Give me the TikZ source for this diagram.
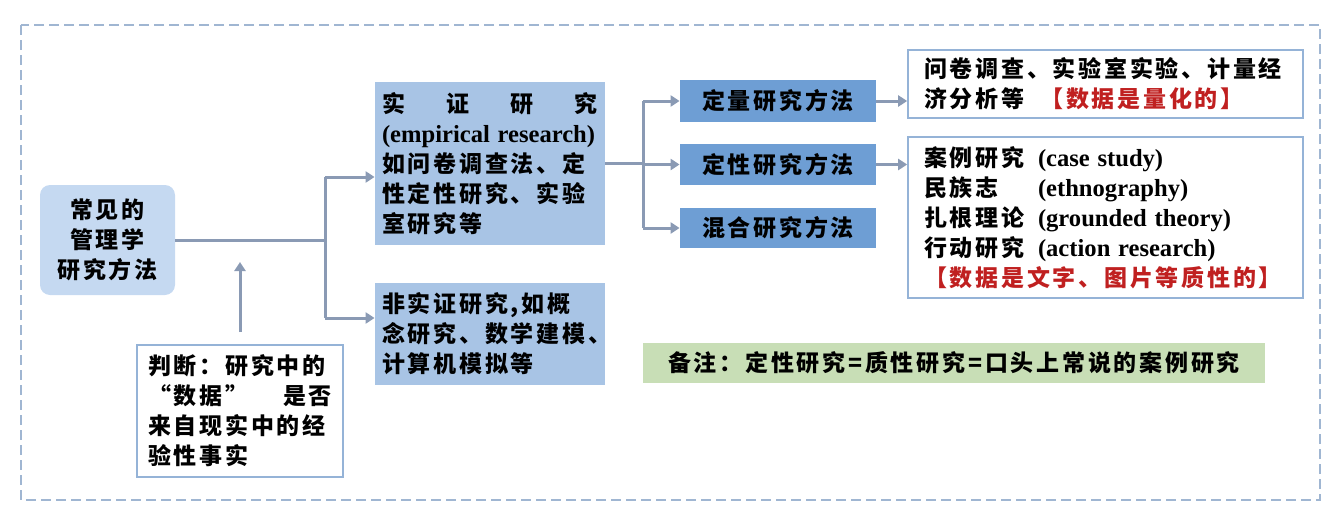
\documentclass[tikz,border=0pt]{standalone}
\usepackage{fontspec}
\setmainfont{Liberation Serif}
\newfontfamily\cjk{Noto Sans CJK SC}[LetterSpace=12]
\usetikzlibrary{arrows.meta,calc,positioning}
\newcommand{\en}[1]{\mbox{\normalfont\bfseries\fontsize{12.3}{15}\selectfont #1}}
\newcommand{\datared}[1]{\textcolor{datared}{#1}}
\definecolor{rootblue}{RGB}{197,217,241}
\definecolor{branchblue}{RGB}{168,196,229}
\definecolor{methodblue}{RGB}{110,158,212}
\definecolor{framegray}{RGB}{149,179,215}
\definecolor{arrowgray}{RGB}{138,154,180}
\definecolor{notegreen}{RGB}{200,222,182}
\definecolor{datared}{RGB}{192,32,32}
\definecolor{dashblue}{RGB}{160,182,210}
\tikzset{
  wire/.style={arrowgray,line width=1.5pt},
  flow/.style={wire,-{Triangle[length=4.5pt,width=5.5pt]}},
  frame/.style={dashblue,line width=0.8pt,dash pattern=on 5pt off 2.5pt},
  box/.style={inner sep=0pt,font=\cjk\bfseries\fontsize{11.5}{15}\selectfont,align=left},
  root/.style={box,fill=rootblue,rounded corners=5pt,align=center},
  branch/.style={box,fill=branchblue,inner xsep=3.5pt},
  method/.style={box,fill=methodblue,align=center,minimum width=98pt},
  listing/.style={box,draw=framegray,fill=white,line width=0.8pt,inner xsep=8pt},
  remark/.style={box,fill=notegreen,align=center},
}

\begin{document}
\begin{tikzpicture}[x=0.5pt,y=-0.5pt]
  \path[use as bounding box] (0,0) rectangle (1340,520);
  \draw[frame] (21,25) rectangle (1320,500);

  \node[root,minimum width=67.5pt,minimum height=55pt] (root) at (107.5,240)
    {常见的\\管理学\\研究方法};
  \node[branch,text width=108pt,minimum height=81.5pt] (empirical) at (490,163.5)
    {\makebox[\linewidth][s]{实\hfill 证\hfill 研\hfill 究}\\
     \en{(empirical research)}\\
     如问卷调查法、定\\性定性研究、实验\\室研究等};
  \node[branch,text width=108pt,minimum height=51pt] (nonempirical) at (490,334)
    {非实证研究,如概\\念研究、数学建模、\\计算机模拟等};
  \node[box,draw=framegray,fill=white,line width=0.8pt,text width=92pt,inner xsep=5.5pt,
        minimum height=66pt] (judge) at (240,411)
    {判断：研究中的\\\makebox[\linewidth][s]{“数据”\hfill 是否}\\来自现实中的经\\验性事实};

  \node[method,minimum height=21pt] (quant) at (778,101) {定量研究方法};
  \node[method,minimum height=20.5pt] (qual) at (778,164.5) {定性研究方法};
  \node[method,minimum height=20pt] (mixed) at (778,228) {混合研究方法};

  \node[listing,text width=181.5pt,minimum height=34pt] (quantlist) at (1105.5,84)
    {问卷调查、实验室实验、计量经\\济分析等\hspace{8pt}\datared{【数据是量化的】}};
  \node[listing,text width=181.5pt,minimum height=80.5pt] (quallist) at (1105.5,217.5)
    {\makebox[57pt][l]{案例研究}\en{(case study)}\\
     \makebox[57pt][l]{民族志}\en{(ethnography)}\\
     \makebox[57pt][l]{扎根理论}\en{(grounded theory)}\\
     \makebox[57pt][l]{行动研究}\en{(action research)}\\
     \datared{【数据是文字、图片等质性的】}};

  \node[remark,minimum width=311pt,minimum height=20pt] (note) at (954,363)
    {备注：定性研究=质性研究=口头上常说的案例研究};

  \coordinate (fork) at (325,240);
  \coordinate (forkup) at (325,177);
  \coordinate (forkdown) at (325,318);
  \coordinate (hint) at (239,262);
  \coordinate (split) at (643,163.5);

  \draw[wire] (root) -- (fork);
  \draw[wire] (forkup) -- (forkdown);
  \draw[flow] (forkup) -- (forkup -| empirical.west);
  \draw[flow] (forkdown) -- (forkdown -| nonempirical.west);
  \draw[flow,shorten <=6pt] (judge.north) -- (judge.north |- hint);

  \draw[wire] (empirical.east) -- (split);
  \draw[wire] (split |- quant.west) -- (split |- mixed.west);
  \draw[flow] (split |- quant.west) -- (quant.west);
  \draw[flow] (split |- qual.west) -- (qual.west);
  \draw[flow] (split |- mixed.west) -- (mixed.west);
  \draw[flow] (quant.east) -- (quant.east -| quantlist.west);
  \draw[flow] (qual.east) -- (qual.east -| quallist.west);
\end{tikzpicture}
\end{document}
